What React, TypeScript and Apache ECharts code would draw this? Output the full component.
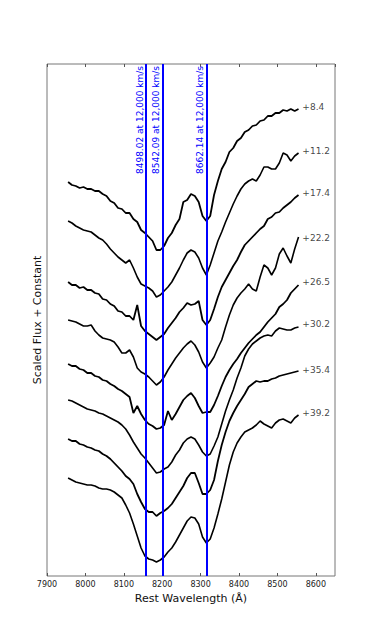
import React, { useEffect, useRef } from 'react';
import * as echarts from 'echarts';

// Wavelength sampling grid (Å), 7955 .. 8555 every 10 Å
const wavelengths: number[] = Array.from({ length: 61 }, (_, k) => 7955 + 10 * k);

// Scaled flux + constant for each epoch
const s84 = [3.94,3.91,3.90,3.88,3.89,3.87,3.87,3.85,3.85,3.82,
  3.80,3.75,3.73,3.68,3.67,3.63,3.63,3.57,3.54,3.46,
  3.43,3.39,3.35,3.26,3.26,3.30,3.38,3.43,3.51,3.57,
  3.74,3.76,3.82,3.80,3.74,3.60,3.55,3.60,3.81,3.95,
  4.07,4.14,4.24,4.28,4.35,4.38,4.44,4.46,4.50,4.51,
  4.55,4.56,4.60,4.60,4.63,4.63,4.66,4.65,4.67,4.65,
  4.67];
const s112 = [3.55,3.53,3.50,3.48,3.46,3.45,3.44,3.41,3.38,3.36,
  3.32,3.27,3.23,3.19,3.16,3.13,3.16,3.08,2.99,2.92,
  2.90,2.88,2.85,2.79,2.81,2.85,2.89,2.94,3.01,3.08,
  3.16,3.23,3.26,3.24,3.18,3.08,3.01,3.11,3.23,3.35,
  3.44,3.54,3.63,3.72,3.80,3.87,3.92,3.95,3.97,3.95,
  4.01,4.09,4.09,4.07,4.07,4.13,4.23,4.21,4.15,4.20,
  4.23];
const s174 = [2.94,2.91,2.91,2.88,2.89,2.86,2.86,2.83,2.82,2.77,
  2.76,2.72,2.70,2.65,2.64,2.60,2.60,2.56,2.71,2.50,
  2.45,2.42,2.39,2.36,2.39,2.42,2.48,2.53,2.58,2.64,
  2.68,2.73,2.71,2.72,2.75,2.56,2.51,2.56,2.67,2.79,
  2.89,2.96,3.03,3.10,3.16,3.24,3.31,3.35,3.39,3.43,
  3.47,3.50,3.57,3.59,3.63,3.64,3.68,3.71,3.74,3.78,
  3.81];
const s222 = [2.56,2.55,2.54,2.52,2.50,2.50,2.51,2.45,2.41,2.38,
  2.37,2.36,2.34,2.29,2.23,2.23,2.26,2.19,2.08,2.04,
  2.02,1.99,1.95,1.91,1.94,1.99,2.06,2.12,2.18,2.23,
  2.28,2.32,2.35,2.31,2.24,2.14,2.08,2.13,2.19,2.28,
  2.36,2.49,2.61,2.71,2.78,2.83,2.87,2.92,2.87,2.85,
  2.99,3.11,3.08,3.01,3.08,3.22,3.28,3.20,3.13,3.27,
  3.39];
const s265 = [2.12,2.10,2.10,2.07,2.06,2.03,2.03,2.00,1.99,1.96,
  1.95,1.92,1.90,1.87,1.85,1.82,1.79,1.63,1.70,1.62,
  1.56,1.52,1.50,1.47,1.48,1.51,1.65,1.56,1.62,1.69,
  1.76,1.80,1.83,1.78,1.70,1.63,1.64,1.64,1.71,1.80,
  1.90,1.99,2.06,2.12,2.17,2.23,2.28,2.33,2.37,2.41,
  2.44,2.49,2.54,2.58,2.62,2.69,2.72,2.76,2.83,2.87,
  2.91];
const s302 = [1.76,1.75,1.73,1.71,1.69,1.67,1.66,1.65,1.63,1.62,
  1.60,1.58,1.56,1.54,1.51,1.47,1.41,1.34,1.28,1.22,
  1.18,1.13,1.08,1.03,1.04,1.07,1.09,1.14,1.21,1.26,
  1.33,1.37,1.39,1.37,1.31,1.24,1.20,1.22,1.30,1.39,
  1.52,1.65,1.76,1.86,1.98,2.08,2.20,2.27,2.32,2.35,
  2.38,2.40,2.41,2.40,2.45,2.48,2.47,2.46,2.46,2.48,
  2.49];
const s354 = [1.37,1.35,1.35,1.32,1.31,1.29,1.28,1.26,1.25,1.22,
  1.20,1.17,1.13,1.09,1.05,1.00,0.97,0.92,0.82,0.74,
  0.67,0.64,0.64,0.60,0.63,0.65,0.68,0.72,0.78,0.84,
  0.90,0.98,1.03,1.03,0.93,0.82,0.82,0.86,0.96,1.15,
  1.31,1.44,1.55,1.63,1.70,1.76,1.82,1.89,1.92,1.95,
  1.94,1.95,1.95,1.97,1.98,2.00,2.01,2.02,2.03,2.04,
  2.05];
const s392 = [0.98,0.96,0.94,0.93,0.92,0.91,0.91,0.90,0.88,0.87,
  0.87,0.86,0.84,0.81,0.78,0.71,0.63,0.52,0.40,0.28,
  0.20,0.17,0.16,0.14,0.16,0.19,0.24,0.28,0.34,0.41,
  0.48,0.55,0.59,0.58,0.52,0.39,0.33,0.37,0.48,0.62,
  0.77,0.94,1.11,1.24,1.33,1.39,1.44,1.46,1.48,1.51,
  1.55,1.52,1.50,1.48,1.53,1.56,1.57,1.55,1.53,1.58,
  1.61];

const spectra = [s84, s112, s174, s222, s265, s302, s354, s392];
const noisy = [true, false, true, false, true, false, true, false];

// Epoch labels at the red end
const phaseLabels = ['+8.4', '+11.2', '+17.4', '+22.2', '+26.5', '+30.2', '+35.4', '+39.2'];
const labelY = [4.69, 4.25, 3.83, 3.38, 2.94, 2.52, 2.06, 1.63];
const labelX = 8565;

// Ca II triplet rest wavelengths, blueshifted by 12,000 km/s
const restLines = [8498.02, 8542.09, 8662.14];
const lineLabels = ['8498.02 at 12,000 km/s', '8542.09 at 12,000 km/s', '8662.14 at 12,000 km/s'];
const velocity = 12000;
const lightSpeed = 299792.458;

const xMin = 7900;
const xMax = 8650;
const xInterval = 100;
const yMin = 0;
const yMax = 5.12;

export default function App() {
  const ref = useRef<HTMLDivElement>(null);

  useEffect(() => {
    document.body.style.margin = '0';
    if (!ref.current) return;
    const chart = echarts.init(ref.current, null, { renderer: 'svg' });
    const font = 'DejaVu Sans';

    const lineSeries: any[] = spectra.map((vals, si) => ({
      type: 'line',
      data: wavelengths.map((w, i) => [w, vals[i]]),
      showSymbol: false,
      symbol: 'none',
      silent: true,
      z: 3,
      lineStyle: { color: '#000000', width: noisy[si] ? 1.8 : 1.6 },
      ...(si === 0
        ? {
            markLine: {
              silent: true,
              symbol: ['none', 'none'],
              z: 4,
              lineStyle: { color: '#0000ff', width: 2, type: 'solid' },
              label: {
                show: true,
                position: 'insideEndTop',
                distance: 2,
                color: '#0000ff',
                fontSize: 9,
                fontFamily: font,
              },
              data: restLines.map((l, i) => ({
                xAxis: l * (1 - velocity / lightSpeed),
                label: { formatter: lineLabels[i] },
              })),
            },
          }
        : {}),
    }));

    lineSeries.push({
      type: 'scatter',
      data: phaseLabels.map((t, i) => [labelX, labelY[i], t]),
      symbolSize: 0,
      silent: true,
      label: {
        show: true,
        position: 'right',
        distance: 0,
        formatter: (p: any) => p.value[2],
        fontSize: 9,
        fontFamily: font,
        color: '#111111',
      },
    });

    chart.setOption({
      animation: false,
      backgroundColor: '#ffffff',
      grid: {
        left: 47,
        right: 39,
        top: 64,
        bottom: 65,
        show: true,
        borderColor: '#777777',
        borderWidth: 1,
        backgroundColor: 'transparent',
      },
      xAxis: [
        {
          type: 'value',
          position: 'bottom',
          min: xMin,
          max: xMax,
          interval: xInterval,
          axisLine: { show: false },
          axisTick: { show: true, inside: true, length: 3, lineStyle: { color: '#555555' } },
          splitLine: { show: false },
          axisLabel: {
            show: true,
            fontSize: 8,
            fontFamily: font,
            color: '#222222',
            margin: 4,
            showMaxLabel: false,
            formatter: (v: number) => String(v),
          },
          name: 'Rest Wavelength (Å)',
          nameLocation: 'middle',
          nameGap: 15,
          nameTextStyle: { fontSize: 11, fontFamily: font, color: '#111111' },
        },
        {
          type: 'value',
          position: 'top',
          min: xMin,
          max: xMax,
          interval: xInterval,
          axisLine: { show: false },
          axisTick: { show: true, inside: true, length: 3, lineStyle: { color: '#555555' } },
          splitLine: { show: false },
          axisLabel: { show: false },
        },
      ],
      yAxis: {
        type: 'value',
        min: yMin,
        max: yMax,
        axisLine: { show: false },
        axisTick: { show: false },
        axisLabel: { show: false },
        splitLine: { show: false },
        name: 'Scaled Flux + Constant',
        nameLocation: 'middle',
        nameGap: 4,
        nameRotate: 90,
        nameTextStyle: { fontSize: 11, fontFamily: font, color: '#111111' },
      },
      series: lineSeries,
    });

    return () => chart.dispose();
  }, []);

  return <div ref={ref} style={{ width: 374, height: 641 }} />;
}
